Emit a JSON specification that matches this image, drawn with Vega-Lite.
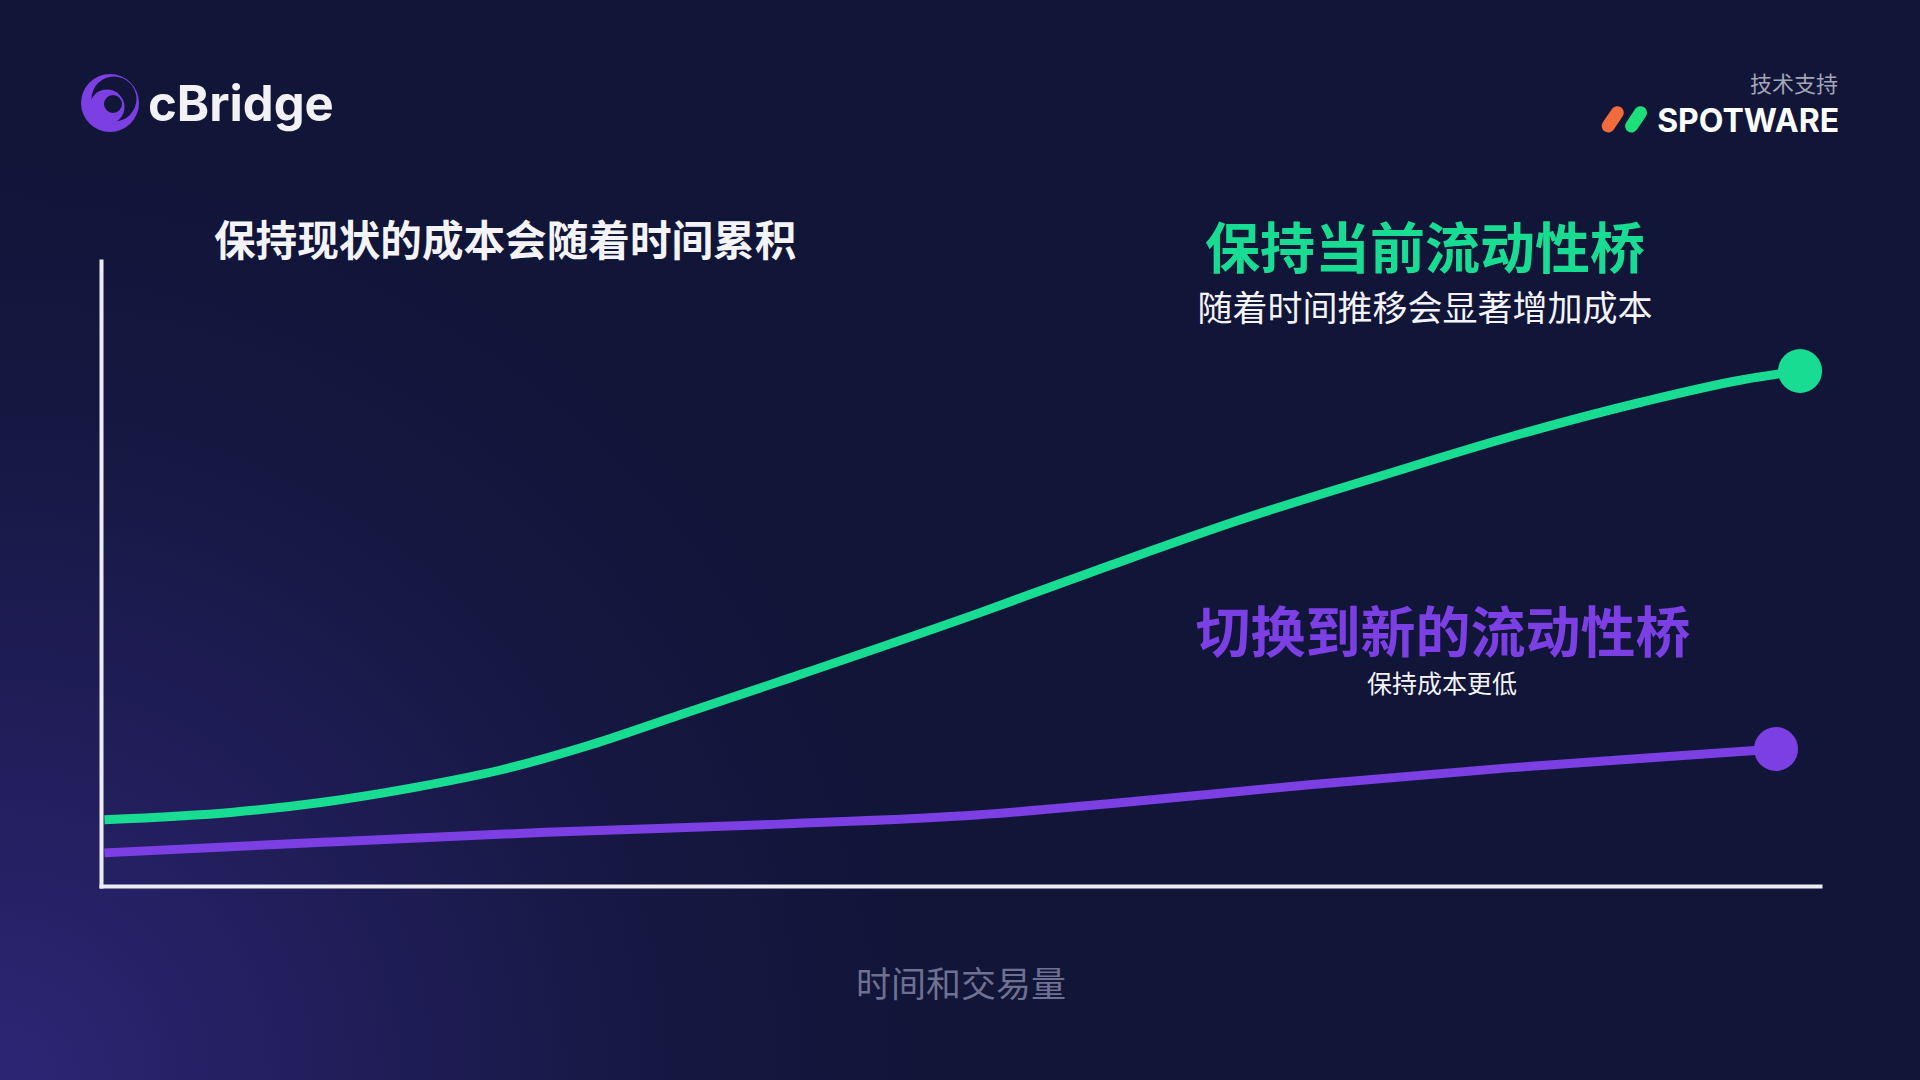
{
  "$schema": "https://vega.github.io/schema/vega-lite/v6.json",
  "width": 1719,
  "height": 625,
  "autosize": {"type": "none"},
  "padding": {"left": 101, "top": 261, "right": 100, "bottom": 194},
  "background": "#111538",
  "config": {
    "view": {"stroke": null},
    "axis": {"domain": true, "domainColor": "#ececf2", "domainWidth": 4, "domainCap": "square", "ticks": false, "labels": false, "grid": false}
  },
  "layer": [
    {
      "data": {"values": [{}]},
      "mark": {"type": "rect", "fill": {"gradient": "radial", "x1": 0, "y1": 0.78, "r1": 0, "x2": 0, "y2": 0.78, "r2": 0.48, "stops": [{"offset": 0, "color": "#2d2676"}, {"offset": 0.4, "color": "#201d58"}, {"offset": 0.75, "color": "#151740"}, {"offset": 1, "color": "#111538"}]}, "strokeWidth": 0},
      "encoding": {
        "x": {"datum": -6, "type": "quantitative", "scale": {"domain": [0, 100], "nice": false, "zero": false},
              "axis": {"zindex": 2, "domain": true, "domainColor": "#ececf2", "domainWidth": 4, "domainCap": "square", "ticks": false, "labels": false, "grid": false,
                       "title": "时间和交易量", "titleFont": "Noto Sans CJK SC", "titleFontSize": 35, "titleFontWeight": "normal", "titleColor": "#6e7191", "titlePadding": 82}},
        "x2": {"datum": 106},
        "y": {"datum": -32, "type": "quantitative", "scale": {"domain": [0, 100], "nice": false, "zero": false},
              "axis": {"zindex": 2, "domain": true, "domainColor": "#ececf2", "domainWidth": 4, "domainCap": "square", "ticks": false, "labels": false, "grid": false, "title": null}},
        "y2": {"datum": 142}
      }
    },
    {
      "data": {"values": [
        {"series": "保持当前流动性桥", "x": 0.2, "y": 10.6},
        {"series": "保持当前流动性桥", "x": 7.7, "y": 11.8},
        {"series": "保持当前流动性桥", "x": 12.9, "y": 13.4},
        {"series": "保持当前流动性桥", "x": 18.1, "y": 15.7},
        {"series": "保持当前流动性桥", "x": 23.3, "y": 18.6},
        {"series": "保持当前流动性桥", "x": 28.5, "y": 22.6},
        {"series": "保持当前流动性桥", "x": 33.7, "y": 27.4},
        {"series": "保持当前流动性桥", "x": 40.1, "y": 33.3},
        {"series": "保持当前流动性桥", "x": 51.1, "y": 43.7},
        {"series": "保持当前流动性桥", "x": 58.8, "y": 51.4},
        {"series": "保持当前流动性桥", "x": 66.5, "y": 58.8},
        {"series": "保持当前流动性桥", "x": 74.2, "y": 65.4},
        {"series": "保持当前流动性桥", "x": 81.9, "y": 71.8},
        {"series": "保持当前流动性桥", "x": 89.6, "y": 77.4},
        {"series": "保持当前流动性桥", "x": 95.5, "y": 81.0},
        {"series": "保持当前流动性桥", "x": 98.8, "y": 82.4},
        {"series": "切换到新的流动性桥", "x": 0.2, "y": 5.3},
        {"series": "切换到新的流动性桥", "x": 12.9, "y": 7.0},
        {"series": "切换到新的流动性桥", "x": 25.9, "y": 8.6},
        {"series": "切换到新的流动性桥", "x": 39.5, "y": 9.9},
        {"series": "切换到新的流动性桥", "x": 51.1, "y": 11.4},
        {"series": "切换到新的流动性桥", "x": 58.8, "y": 13.2},
        {"series": "切换到新的流动性桥", "x": 70.3, "y": 16.2},
        {"series": "切换到新的流动性桥", "x": 81.9, "y": 18.9},
        {"series": "切换到新的流动性桥", "x": 91.6, "y": 20.8},
        {"series": "切换到新的流动性桥", "x": 97.4, "y": 21.9}
      ]},
      "mark": {"type": "line", "strokeWidth": 9, "interpolate": "monotone"},
      "encoding": {
        "x": {"field": "x", "type": "quantitative", "scale": {"domain": [0, 100], "nice": false, "zero": false}},
        "y": {"field": "y", "type": "quantitative", "scale": {"domain": [0, 100], "nice": false, "zero": false}},
        "color": {"field": "series", "type": "nominal", "scale": {"domain": ["保持当前流动性桥", "切换到新的流动性桥"], "range": ["#17dc92", "#7b3fe4"]}, "legend": null}
      }
    },
    {
      "data": {"values": [
        {"series": "保持当前流动性桥", "x": 98.84, "y": 82.4},
        {"series": "切换到新的流动性桥", "x": 97.44, "y": 21.92}
      ]},
      "mark": {"type": "point", "shape": "circle", "filled": true, "size": 1936, "opacity": 1, "strokeWidth": 0},
      "encoding": {
        "x": {"field": "x", "type": "quantitative"},
        "y": {"field": "y", "type": "quantitative"},
        "color": {"field": "series", "type": "nominal", "legend": null}
      }
    },
    {
      "data": {"values": [{"x": 6.57, "y": 102.72, "label": "保持现状的成本会随着时间累积"}]},
      "mark": {"type": "text", "font": "Noto Sans CJK SC", "fontSize": 41.6, "fontWeight": "bold", "color": "#f4f4f8", "align": "left", "baseline": "middle"},
      "encoding": {
        "x": {"field": "x", "type": "quantitative"},
        "y": {"field": "y", "type": "quantitative"},
        "text": {"field": "label"}
      }
    },
    {
      "data": {"values": [{"x": 77.02, "y": 101.62, "label": "保持当前流动性桥"}]},
      "mark": {"type": "text", "font": "Noto Sans CJK SC", "fontSize": 55, "fontWeight": "bold", "color": "#17dc92", "align": "center", "baseline": "middle"},
      "encoding": {
        "x": {"field": "x", "type": "quantitative"},
        "y": {"field": "y", "type": "quantitative"},
        "text": {"field": "label"}
      }
    },
    {
      "data": {"values": [{"x": 77.02, "y": 92.19, "label": "随着时间推移会显著增加成本"}]},
      "mark": {"type": "text", "font": "Noto Sans CJK SC", "fontSize": 35, "fontWeight": "normal", "color": "#f4f4f8", "align": "center", "baseline": "middle"},
      "encoding": {
        "x": {"field": "x", "type": "quantitative"},
        "y": {"field": "y", "type": "quantitative"},
        "text": {"field": "label"}
      }
    },
    {
      "data": {"values": [{"x": 78.07, "y": 40.14, "label": "切换到新的流动性桥"}]},
      "mark": {"type": "text", "font": "Noto Sans CJK SC", "fontSize": 55, "fontWeight": "bold", "color": "#7b3fe4", "align": "center", "baseline": "middle"},
      "encoding": {
        "x": {"field": "x", "type": "quantitative"},
        "y": {"field": "y", "type": "quantitative"},
        "text": {"field": "label"}
      }
    },
    {
      "data": {"values": [{"x": 78.01, "y": 32.16, "label": "保持成本更低"}]},
      "mark": {"type": "text", "font": "Noto Sans CJK SC", "fontSize": 25, "fontWeight": "normal", "color": "#f4f4f8", "align": "center", "baseline": "middle"},
      "encoding": {
        "x": {"field": "x", "type": "quantitative"},
        "y": {"field": "y", "type": "quantitative"},
        "text": {"field": "label"}
      }
    },
    {
      "data": {"values": [{"x": 0.524, "y": 125.28}]},
      "mark": {"type": "point", "shape": "circle", "filled": true, "size": 3364, "opacity": 1, "strokeWidth": 0, "color": "#7b3fe4"},
      "encoding": {
        "x": {"field": "x", "type": "quantitative"},
        "y": {"field": "y", "type": "quantitative"}
      }
    },
    {
      "data": {"values": [{"x": 0.756, "y": 125.92}]},
      "mark": {"type": "point", "shape": "circle", "filled": true, "size": 2025, "opacity": 1, "strokeWidth": 0, "color": "#111538"},
      "encoding": {
        "x": {"field": "x", "type": "quantitative"},
        "y": {"field": "y", "type": "quantitative"}
      }
    },
    {
      "data": {"values": [{"x": 0.349, "y": 124.64}]},
      "mark": {"type": "point", "shape": "circle", "filled": true, "size": 1225, "opacity": 1, "strokeWidth": 0, "color": "#7b3fe4"},
      "encoding": {
        "x": {"field": "x", "type": "quantitative"},
        "y": {"field": "y", "type": "quantitative"}
      }
    },
    {
      "data": {"values": [{"x": 0.698, "y": 125.12}]},
      "mark": {"type": "point", "shape": "circle", "filled": true, "size": 324, "opacity": 1, "strokeWidth": 0, "color": "#111538"},
      "encoding": {
        "x": {"field": "x", "type": "quantitative"},
        "y": {"field": "y", "type": "quantitative"}
      }
    },
    {
      "data": {"values": [{"x": 2.73, "y": 122.4, "label": "cBridge"}]},
      "mark": {"type": "text", "font": "Inter", "fontSize": 49, "fontWeight": "bold", "color": "#f1f1f6", "align": "left", "baseline": "alphabetic"},
      "encoding": {
        "x": {"field": "x", "type": "quantitative"},
        "y": {"field": "y", "type": "quantitative"},
        "text": {"field": "label"}
      }
    },
    {
      "data": {"values": [{"x": 101.05, "y": 128.2, "label": "技术支持"}]},
      "mark": {"type": "text", "font": "Noto Sans CJK SC", "fontSize": 22, "fontWeight": "normal", "color": "#a3a5b8", "align": "right", "baseline": "middle"},
      "encoding": {
        "x": {"field": "x", "type": "quantitative"},
        "y": {"field": "y", "type": "quantitative"},
        "text": {"field": "label"}
      }
    },
    {
      "data": {"values": [{"x": 101.11, "y": 120.64, "label": "SPOTWARE"}]},
      "mark": {"type": "text", "font": "Inter", "fontSize": 32, "fontWeight": "bold", "color": "#ffffff", "align": "right", "baseline": "alphabetic"},
      "encoding": {
        "x": {"field": "x", "type": "quantitative"},
        "y": {"field": "y", "type": "quantitative"},
        "text": {"field": "label"}
      }
    },
    {
      "data": {"values": [{"x": 87.68, "y": 121.6}, {"x": 88.21, "y": 123.73}]},
      "mark": {"type": "line", "strokeWidth": 13, "strokeCap": "round", "color": "#f26b3a"},
      "encoding": {
        "x": {"field": "x", "type": "quantitative"},
        "y": {"field": "y", "type": "quantitative"}
      }
    },
    {
      "data": {"values": [{"x": 89.04, "y": 121.6}, {"x": 89.56, "y": 123.73}]},
      "mark": {"type": "line", "strokeWidth": 13, "strokeCap": "round", "color": "#1ee07a"},
      "encoding": {
        "x": {"field": "x", "type": "quantitative"},
        "y": {"field": "y", "type": "quantitative"}
      }
    }
  ]
}
